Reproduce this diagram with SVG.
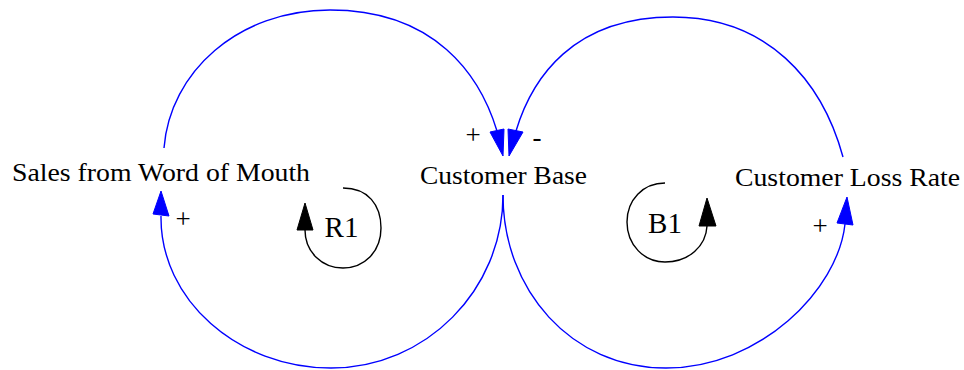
<svg xmlns="http://www.w3.org/2000/svg" width="964" height="370" viewBox="0 0 964 370">
<style>
.lnk{fill:none;stroke:#0000ff;stroke-width:1.4}
.ah{fill:#0000ff;stroke:#0000ff;stroke-width:1}
.loop{fill:none;stroke:#000;stroke-width:1.4}
.lah{fill:#000;stroke:#000;stroke-width:1}
text{font-family:'Liberation Serif','Times New Roman',Times,serif;fill:#000;text-anchor:middle}
.lbl{font-size:25px}
.sgn{font-size:27px}
.lid{font-size:29px}
</style>
<rect width="964" height="370" fill="#fff"/>
<g id="connectors">
  <path class="lnk" d="M164,148 C170,72 238,10 330,10 C435,10 480,75 497,131"/>
  <polygon class="ah" points="490,132 504,129 503,156"/>
  <path class="lnk" d="M843,157 C822,80 767,17 673,17 C573,17 532,78 516,131"/>
  <polygon class="ah" points="508,129 523,132 509,156"/>
  <path class="lnk" d="M503,195 C503,290 426,368 331,368 C238,368 160,300 161,216"/>
  <polygon class="ah" points="153,214 169,216 161,191"/>
  <path class="lnk" d="M503,195 C503,290 571,368 666,368 C760,368 838,290 845,224"/>
  <polygon class="ah" points="837,223 853,225 847,197"/>
  <text class="sgn" x="473" y="144">+</text>
  <text class="sgn" x="537" y="146">-</text>
  <text class="sgn" x="183" y="228">+</text>
  <text class="sgn" x="820" y="235">+</text>
</g>
<g id="sales">
  <text class="lbl" x="161" y="181" textLength="298" lengthAdjust="spacingAndGlyphs">Sales from Word of Mouth</text>
</g>
<g id="customer-base">
  <text class="lbl" x="503.5" y="184" textLength="167" lengthAdjust="spacingAndGlyphs">Customer Base</text>
</g>
<g id="customer-loss-rate">
  <text class="lbl" x="847.5" y="186" textLength="225" lengthAdjust="spacingAndGlyphs">Customer Loss Rate</text>
</g>
<g id="R1">
  <path class="loop" d="M343,188 C368,188 381,205 381,228 C381,252 364,268 343,268 C322,268 305,252 305,230"/>
  <polygon class="lah" points="297,230 313,230 305,203"/>
  <text class="lid" x="341.5" y="237">R1</text>
</g>
<g id="B1">
  <path class="loop" d="M665,183 C643,183 627,200 627,222 C627,245 644,262 665,262 C689,262 706,246 707,226"/>
  <polygon class="lah" points="699,226 716,226 707,198"/>
  <text class="lid" x="665" y="233">B1</text>
</g>
</svg>
